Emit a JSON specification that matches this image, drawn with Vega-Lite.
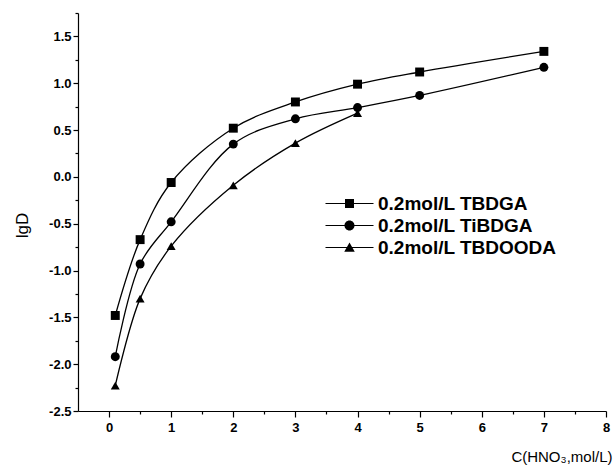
{
  "$schema": "https://vega.github.io/schema/vega-lite/v6.json",
  "width": 528,
  "height": 398,
  "autosize": {"type": "none"},
  "padding": {"left": 78, "top": 13, "right": 9, "bottom": 64},
  "background": "white",
  "config": {
    "view": {"stroke": null},
    "font": "Liberation Sans",
    "axis": {"domainColor": "black", "tickColor": "black", "labelColor": "black", "titleColor": "black", "domainWidth": 1.2, "tickWidth": 1.2, "grid": false}
  },
  "data": {
    "values": [
      {"c": 0.1, "lgD": -1.48, "series": "0.2mol/L TBDGA"},
      {"c": 0.5, "lgD": -0.67, "series": "0.2mol/L TBDGA"},
      {"c": 1, "lgD": -0.06, "series": "0.2mol/L TBDGA"},
      {"c": 2, "lgD": 0.52, "series": "0.2mol/L TBDGA"},
      {"c": 3, "lgD": 0.8, "series": "0.2mol/L TBDGA"},
      {"c": 4, "lgD": 0.99, "series": "0.2mol/L TBDGA"},
      {"c": 5, "lgD": 1.12, "series": "0.2mol/L TBDGA"},
      {"c": 7, "lgD": 1.34, "series": "0.2mol/L TBDGA"},
      {"c": 0.1, "lgD": -1.92, "series": "0.2mol/L TiBDGA"},
      {"c": 0.5, "lgD": -0.93, "series": "0.2mol/L TiBDGA"},
      {"c": 1, "lgD": -0.48, "series": "0.2mol/L TiBDGA"},
      {"c": 2, "lgD": 0.35, "series": "0.2mol/L TiBDGA"},
      {"c": 3, "lgD": 0.62, "series": "0.2mol/L TiBDGA"},
      {"c": 4, "lgD": 0.74, "series": "0.2mol/L TiBDGA"},
      {"c": 5, "lgD": 0.87, "series": "0.2mol/L TiBDGA"},
      {"c": 7, "lgD": 1.17, "series": "0.2mol/L TiBDGA"},
      {"c": 0.1, "lgD": -2.23, "series": "0.2mol/L TBDOODA"},
      {"c": 0.5, "lgD": -1.3, "series": "0.2mol/L TBDOODA"},
      {"c": 1, "lgD": -0.74, "series": "0.2mol/L TBDOODA"},
      {"c": 2, "lgD": -0.09, "series": "0.2mol/L TBDOODA"},
      {"c": 3, "lgD": 0.36, "series": "0.2mol/L TBDOODA"},
      {"c": 4, "lgD": 0.68, "series": "0.2mol/L TBDOODA"}
    ]
  },
  "encoding": {
    "x": {
      "field": "c",
      "type": "quantitative",
      "scale": {"domain": [-0.5, 8], "nice": false, "zero": false},
      "axis": {
        "title": "C(HNO₃,mol/L)",
        "values": [0, 0.5, 1, 1.5, 2, 2.5, 3, 3.5, 4, 4.5, 5, 5.5, 6, 6.5, 7, 7.5, 8],
        "labelExpr": "abs(datum.value - round(datum.value)) < 0.001 ? format(datum.value, 'd') : ''",
        "tickSize": {"condition": {"test": "abs(datum.value - round(datum.value)) < 0.001", "value": 6}, "value": 3},
        "labelFontSize": 13,
        "labelFontWeight": "bold",
        "labelPadding": 4,
        "labelOverlap": false,
        "labelFlush": false,
        "titleFontSize": 15,
        "titleFontWeight": "normal",
        "titleAlign": "right",
        "titleAnchor": "end",
        "titleX": 534,
        "titleY": 50,
        "titleBaseline": "alphabetic"
      }
    },
    "y": {
      "field": "lgD",
      "type": "quantitative",
      "scale": {"domain": [-2.5, 1.75], "nice": false, "zero": false},
      "axis": {
        "title": "lgD",
        "values": [-2.5, -2.25, -2, -1.75, -1.5, -1.25, -1, -0.75, -0.5, -0.25, 0, 0.25, 0.5, 0.75, 1, 1.25, 1.5, 1.75],
        "labelExpr": "abs(datum.value * 2 - round(datum.value * 2)) < 0.001 ? replace(format(datum.value, '.1f'), '−', '-') : ''",
        "tickSize": {"condition": {"test": "abs(datum.value * 2 - round(datum.value * 2)) < 0.001", "value": 5}, "value": 3},
        "labelFontSize": 13,
        "labelFontWeight": "bold",
        "labelPadding": 2,
        "labelOverlap": false,
        "labelFlush": false,
        "titleFontSize": 17,
        "titleFontWeight": "normal",
        "titleX": -56,
        "titleY": 212,
        "titleAlign": "center",
        "titleBaseline": "middle",
        "titleAngle": -90
      }
    }
  },
  "layer": [
    {
      "mark": {"type": "line", "interpolate": "catmull-rom", "color": "black", "strokeWidth": 1.3},
      "encoding": {"detail": {"field": "series", "type": "nominal"}}
    },
    {
      "mark": {"type": "point", "filled": true, "color": "black", "size": 80, "opacity": 1},
      "encoding": {
        "shape": {
          "field": "series",
          "type": "nominal",
          "scale": {"domain": ["0.2mol/L TBDGA", "0.2mol/L TiBDGA", "0.2mol/L TBDOODA"], "range": ["square", "circle", "triangle-up"]},
          "legend": null
        }
      }
    },
    {
      "mark": {"type": "point", "filled": true, "color": "black", "size": 100, "opacity": 0},
      "encoding": {
        "shape": {
          "field": "series",
          "type": "nominal",
          "scale": {
            "domain": ["0.2mol/L TBDGA", "0.2mol/L TiBDGA", "0.2mol/L TBDOODA"],
            "range": [
              "M-4.8,-0.11H4.8V0.11H-4.8ZM-0.9,-0.9H0.9V0.9H-0.9Z",
              "M-4.8,-0.11H4.8V0.11H-4.8ZM1,0A1,1,0,1,1,-1,0A1,1,0,1,1,1,0Z",
              "M-4.8,-0.11H4.8V0.11H-4.8ZM0,-1.0L1.05,0.85H-1.05Z"
            ]
          },
          "legend": {
            "title": null,
            "orient": "none",
            "legendX": 262,
            "legendY": 181,
            "padding": 0,
            "symbolSize": 100,
            "labelOffset": 19,
            "rowPadding": 2,
            "labelFontSize": 19,
            "labelFontWeight": "bold",
            "labelFont": "Liberation Sans",
            "labelColor": "black",
            "labelLimit": 0,
            "symbolOpacity": 1,
            "symbolFillColor": "black",
            "encode": {
              "symbols": {
                "opacity": {"value": 1},
                "fill": {"value": "black"}
              }
            }
          }
        }
      }
    }
  ],
  "resolve": {"scale": {"shape": "independent"}, "legend": {"shape": "independent"}}
}
